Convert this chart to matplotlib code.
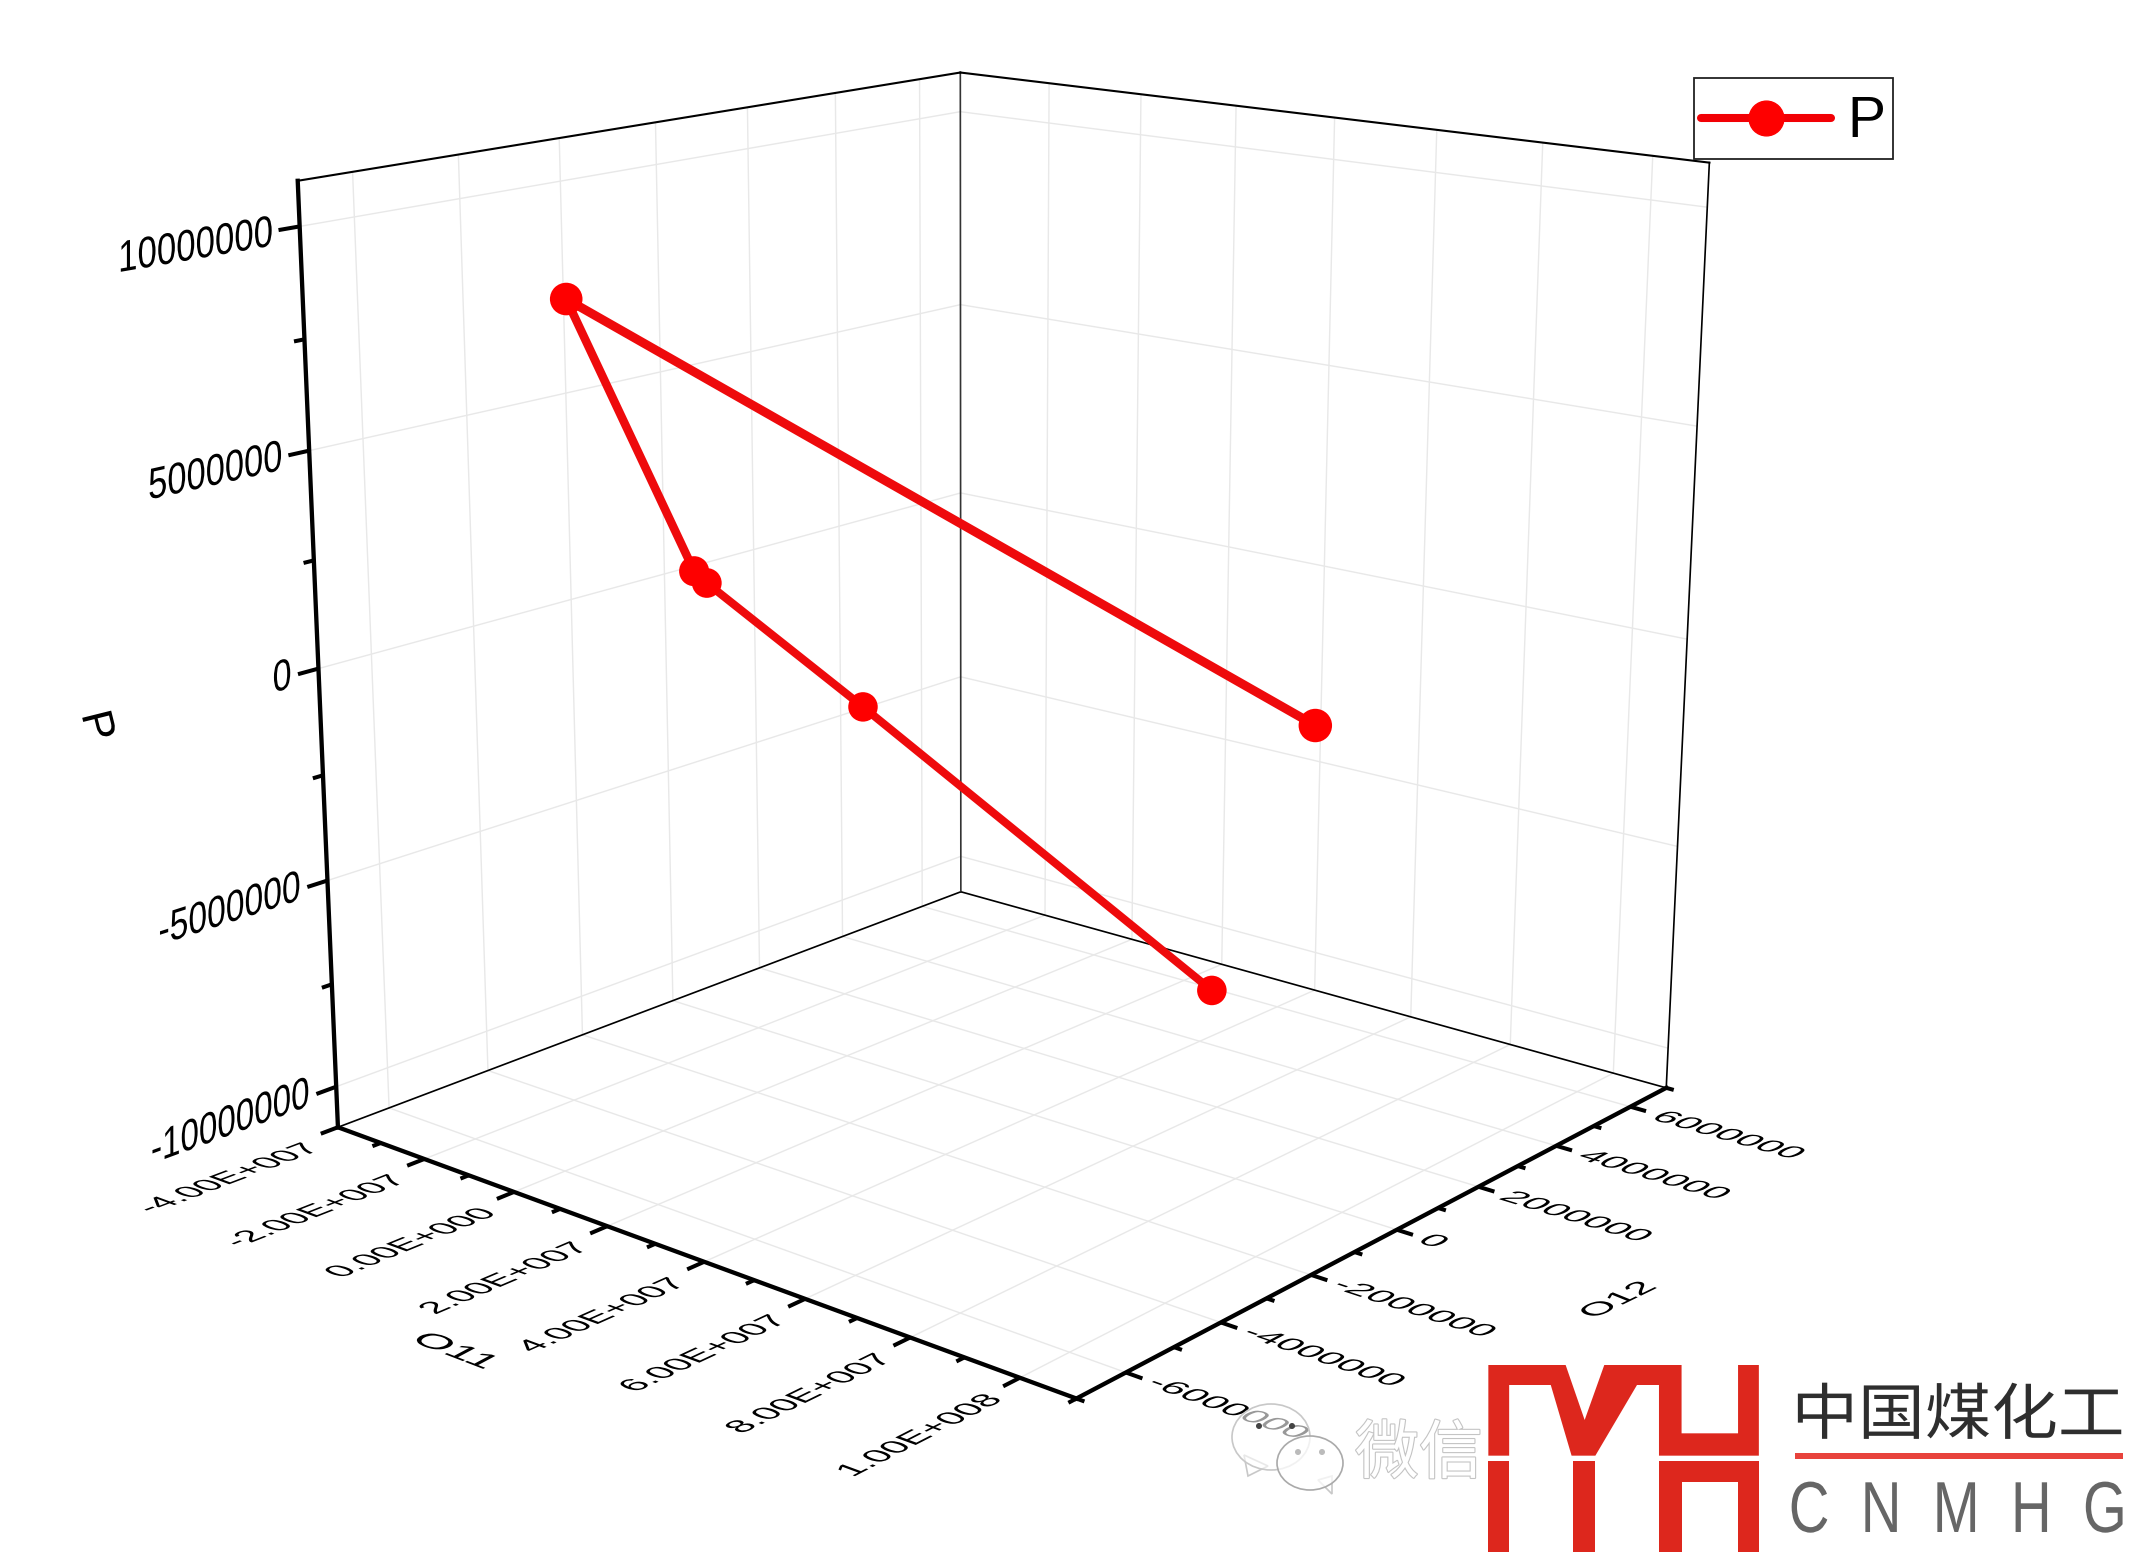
import numpy as np
import matplotlib
matplotlib.use('Agg')
import matplotlib.pyplot as plt
from matplotlib.legend_handler import HandlerLine2D
from matplotlib.lines import Line2D
from matplotlib.patches import Ellipse, Polygon, Rectangle, Circle
from matplotlib.patheffects import AbstractPathEffect, withStroke
from matplotlib.transforms import Affine2D
from mpl_toolkits.mplot3d.art3d import Line3DCollection

plt.rcParams['font.family'] = ['Liberation Sans', 'DejaVu Sans']

# ---------- data ----------
O11 = [57.0e6, 6.0e6, -12.5e6, -10.0e6, 5.2e6, 107e6]
O12 = [2.2e6, -0.2e6, -1.7e6, -2.2e6, -6.0e6, -1.8e6]
P_VAL = [-8.3e6, -2.0e6, 1.0e6, 1.5e6, 9.0e6, 1.0e6]

x_major = [-4e7, -2e7, 0, 2e7, 4e7, 6e7, 8e7, 1e8]
x_minor = [-3e7, -1e7, 1e7, 3e7, 5e7, 7e7, 9e7, 1.1e8]
x_labels = ['-4.00E+007', '-2.00E+007', '0.00E+000', '2.00E+007', '4.00E+007',
            '6.00E+007', '8.00E+007', '1.00E+008']
y_major = [-6e6, -4e6, -2e6, 0, 2e6, 4e6, 6e6]
y_minor = [-7e6, -5e6, -3e6, -1e6, 1e6, 3e6, 5e6, 7e6]
y_labels = ['-6000000', '-4000000', '-2000000', '0', '2000000', '4000000', '6000000']
z_major = [-1e7, -5e6, 0, 5e6, 1e7]
z_minor = [-7.5e6, -2.5e6, 2.5e6, 7.5e6]
z_labels = ['-10000000', '-5000000', '0', '5000000', '10000000']
xa, xb, ya, yb, za, zb = -4e7, 1.1e8, -7e6, 7e6, -1.1e7, 1.1e7

# ---------- figure, camera ----------
W, H = 2132, 1558
fig = plt.figure(figsize=(W / 100, H / 100), dpi=100, facecolor='white')
ax = fig.add_axes([0, (H - W) / 2 / H, 1, W / H], projection='3d', computed_zorder=False)
ax.set_axis_off()
ax.patch.set_alpha(0)

# pinhole camera of the reference: data -> reference pixels
CAM = np.array([[386.8799, 548.9021, -25.98772, 843.4606],
                [50.47459, -63.33453, -428.8442, 615.1245],
                [-0.09136268, 0.11487305, -0.02677367, 1.0]])
CAM = CAM @ np.diag([1e-8, 1e-7, 1e-7, 1.0])


def get_proj():
    inv = ax.transData.inverted().get_matrix()
    flip = np.array([[1, 0, 0], [0, -1, H], [0, 0, 1.0]])
    r = inv @ flip @ CAM
    depth = CAM[2] * np.array([1, 1, 1, 0])
    return np.vstack([r[0], r[1], depth, r[2]])


ax.get_proj = get_proj
px_tf = Affine2D().scale(1, -1).translate(0, H)


def proj(x, y, z):
    h = CAM @ np.array([x, y, z, 1.0])
    return h[0] / h[2], h[1] / h[2], h[2]


def angle(p, q):
    return np.degrees(np.arctan2(-(q[1] - p[1]), q[0] - p[0]))


class GlyphPlane(AbstractPathEffect):
    """Draws the glyphs of a Text on a foreshortened plane."""
    def __init__(self, a, b, rel_up, pivot):
        self.a, self.b = a, b
        self.lx, self.ly = np.cos(np.radians(rel_up)), np.sin(np.radians(rel_up))
        self.pivot = pivot

    def draw_path(self, renderer, gc, tpath, affine, rgbFace=None):
        e = tpath.get_extents()
        pv = {'left': e.x0, 'right': e.x1, 'center': (e.x0 + e.x1) / 2}[self.pivot]
        mtx = np.array([[self.a, self.b * self.lx, 0], [0, self.b * self.ly, 0], [0, 0, 1.0]])
        m = Affine2D().translate(-pv, 0) + Affine2D(mtx) + Affine2D().translate(pv, 0)
        renderer.draw_path(gc, tpath, m + affine, rgbFace)


def plane_text(u, v, s, theta, up, a, b, fs, ha='center', color='black', zorder=3, **kw):
    t = fig.text(u, v, s, transform=px_tf, rotation=theta, rotation_mode='anchor',
                 ha=ha, va='baseline', fontsize=fs, color=color, zorder=zorder, **kw)
    t.set_path_effects([GlyphPlane(a, b, up - theta, ha)])
    return t


def lines3d(segs, color, lw_pt, zorder, cap='butt'):
    c = Line3DCollection(segs, colors=color, linewidths=lw_pt, zorder=zorder, capstyle=cap)
    c.set_clip_on(False)
    ax.add_collection3d(c, autolim=False)


# ---------- grid ----------
grid = []
for x in x_major[1:]:
    grid += [[(x, ya, za), (x, yb, za)], [(x, yb, za), (x, yb, zb)]]
for y in y_major:
    grid += [[(xa, y, za), (xb, y, za)], [(xa, y, za), (xa, y, zb)]]
for z in z_major:
    grid += [[(xa, ya, z), (xa, yb, z)], [(xa, yb, z), (xb, yb, z)]]
lines3d(grid, '#e8e8e8', 1.0, 1)

# ---------- box ----------
lines3d([[(xa, ya, za), (xa, yb, za)], [(xa, yb, za), (xb, yb, za)], [(xb, yb, za), (xb, yb, zb)]],
        'black', 1.2, 2, 'projecting')
lines3d([[(xa, yb, za), (xa, yb, zb)]], '#333333', 1.2, 2)
lines3d([[(xa, ya, zb), (xa, yb, zb)], [(xa, yb, zb), (xb, yb, zb)]], 'black', 1.5, 2, 'projecting')
lines3d([[(xa, ya, za), (xa, ya, zb)], [(xa, ya, za), (xb, ya, za)], [(xb, ya, za), (xb, yb, za)]],
        'black', 3.1, 2.5, 'projecting')

# ---------- ticks ----------
ticks = []
ticks += [[(xa, ya, z), (xa, ya - 0.38e6, z)] for z in z_major]
ticks += [[(xa, ya, z), (xa, ya - 0.19e6, z)] for z in z_minor]
ticks += [[(x, ya, za), (x, ya - 0.33e6, za)] for x in x_major]
ticks += [[(x, ya, za), (x, ya - 0.16e6, za)] for x in x_minor]
ticks += [[(xb, y, za), (xb + 2.9e6, y, za)] for y in y_major]
ticks += [[(xb, y, za), (xb + 1.4e6, y, za)] for y in y_minor]
lines3d(ticks, 'black', 2.9, 2.5)

# ---------- tick labels ----------
for z, s in zip(z_major, z_labels):
    p0 = proj(xa, ya, z)
    d = angle(p0, proj(xa, ya + 1e6, z))
    plane_text(p0[0] - 27, p0[1] + 19, s, d, 90, 1.06, 1.32, 24, ha='right')
for x, s in zip(x_major, x_labels):
    p0 = proj(x, ya, za)
    d = angle(p0, proj(x, ya + 1e6, za))
    up = angle(p0, proj(x - 1e7, ya, za))
    plane_text(p0[0] - 16, p0[1] + 22, s, d, up, 1.05, 0.95, 24, ha='right')
for y, s in zip(y_major, y_labels):
    p0 = proj(xb, y, za)
    d = angle(p0, proj(xb + 1e7, y, za))
    up = angle(p0, proj(xb, y + 1e6, za))
    plane_text(p0[0] + 19, p0[1] + 12, s, d, up, 1.15, 0.85, 24, ha='left')

# ---------- axis titles ----------
plane_text(85, 729, 'P', -76, 14, 1.35, 1.3, 24)
plane_text(447, 1355, 'O11', -21, 28, 1.35, 0.95, 24)
plane_text(1626, 1303, 'O12', 26, 158, 1.15, 0.9, 24)

# ---------- series ----------
w = np.array([proj(a, b, c)[2] for a, b, c in zip(O11, O12, P_VAL)])
for i in range(len(O11) - 1):
    lw_px = 8.0 / ((w[i] + w[i + 1]) / 2)
    ax.plot(O11[i:i + 2], O12[i:i + 2], P_VAL[i:i + 2], color='#ee0a0c', lw=lw_px * 0.72,
            zorder=5, solid_capstyle='round', clip_on=False)
ms_px = 2 * 14.7 / w
ax.scatter(O11, O12, P_VAL, s=(ms_px * 0.72) ** 2, c='#fe0000', linewidths=0,
           depthshade=False, zorder=6, clip_on=False)


# ---------- legend ----------
class LoweredHandler(HandlerLine2D):
    def create_artists(self, legend, orig_handle, xdescent, ydescent, width, height, fontsize, trans):
        return super().create_artists(legend, orig_handle, xdescent, ydescent, width, height, fontsize,
                                      Affine2D().translate(0, -5) + trans)


handle = Line2D([], [], color='#f20005', lw=5.8, marker='o', ms=25, mfc='#fe0000', mec='#fe0000',
                solid_capstyle='round')
leg = fig.legend([handle], ['P'], loc='upper left', bbox_to_anchor=(1694 / W, 1 - 78 / H),
                 bbox_transform=fig.transFigure, borderaxespad=0, borderpad=0.13, fontsize=41,
                 handlelength=2.27, handleheight=1.4, handletextpad=0.3, numpoints=1, frameon=True,
                 framealpha=1, fancybox=False, edgecolor='#222222', facecolor='white',
                 handler_map={Line2D: LoweredHandler()})
leg.get_frame().set_linewidth(1.3)
leg.set_zorder(4)


# ---------- watermark ----------
def add(p):
    p.set_transform(px_tf)
    fig.add_artist(p)


wm = dict(fc=(1, 1, 1, 0.6), ec='#c8c8c8', lw=1.2, zorder=6)
add(Polygon([(1244, 1455), (1248, 1476), (1268, 1466)], closed=True, **wm))
add(Ellipse((1271, 1437), 78, 66, **wm))
add(Polygon([(1318, 1480), (1332, 1494), (1332, 1476)], closed=True, **wm))
add(Ellipse((1310, 1463), 66, 54, fc=(1, 1, 1, 0.75), ec='#aaaaaa', lw=1.2, zorder=6))
for c, col in [((1259, 1426), '#444444'), ((1292, 1426), '#444444'),
               ((1298, 1452), '#bbbbbb'), ((1322, 1452), '#bbbbbb')]:
    add(Circle(c, 3, fc=col, ec='none', zorder=6.5))
fig.text(1355, 1473, '微信', transform=px_tf, fontsize=46, color='white', zorder=6,
         family=['Noto Sans CJK SC', 'DejaVu Sans'], ha='left', va='baseline',
         path_effects=[withStroke(linewidth=1.6, foreground='#c4c4c4')])


def lx(z):
    return 1200 + z / 1.682


def ly(z):
    return 1340 + z / 3


RED = '#dd271d'
top = [(485, 75), (615, 75), (647, 240), (680, 75), (810, 75), (810, 280), (905, 280), (905, 75),
       (940, 75), (940, 347), (772, 347), (772, 135), (735, 135), (665, 347), (625, 347), (590, 135),
       (520, 135), (520, 347), (485, 347)]
add(Polygon([(lx(a), ly(b)) for a, b in top], closed=True, fc=RED, ec='none', zorder=7))
bot_rects = [(485, 362, 35, 273), (628, 362, 37, 273), (772, 362, 38, 273), (905, 362, 35, 273),
             (772, 362, 168, 63)]
for a, b, c, d in bot_rects:
    add(Rectangle((lx(a), ly(b)), c / 1.682, d / 3, fc=RED, ec='none', zorder=7))
add(Rectangle((1795, 1453), 328, 6, fc='#e8433c', ec='none', zorder=7))
t = fig.text(1792, 1434, '中国煤化工', transform=px_tf, fontsize=44, color='#2e2e2e', zorder=7,
             family=['Noto Sans CJK SC', 'DejaVu Sans'], ha='left', va='baseline')
t.set_path_effects([GlyphPlane(1.09, 1.0, 90, 'left')])
t = fig.text(2128, 1532, 'C  N  M  H  G', transform=px_tf, fontsize=52, color='#666666', zorder=7,
             ha='right', va='baseline')
t.set_path_effects([GlyphPlane(0.78, 1.0, 90, 'right')])

fig.savefig('out.png', dpi=100, facecolor='white')
